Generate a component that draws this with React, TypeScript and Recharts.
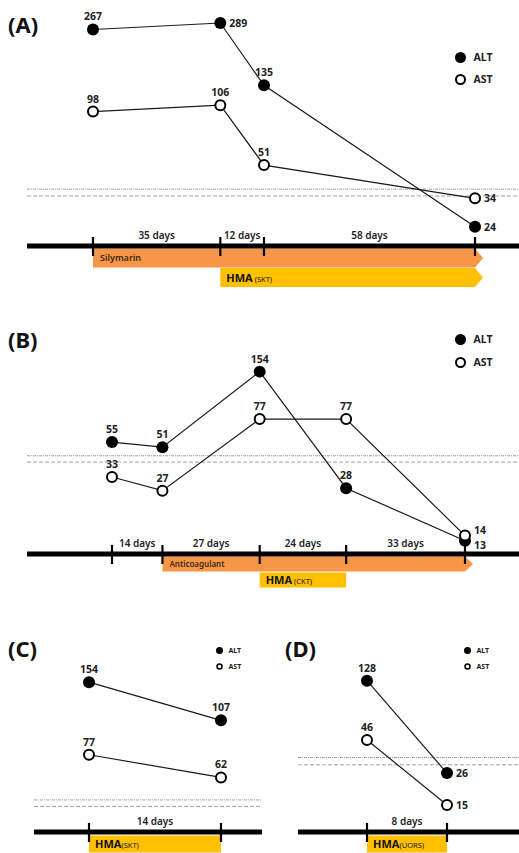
import React from 'react';
import { LineChart, Line, XAxis, YAxis, ReferenceLine, LabelList, BarChart, Bar } from 'recharts';

// (A) days from first visit, ALT / AST (IU/L)
const daysA = [0, 35, 47, 105];
const altA = [267, 289, 135, 24];
const astA = [98, 106, 51, 34];
const refA = [38, 35];
const drugsA = [
  { name: 'Silymarin', note: '', from: 0, to: 105, ongoing: true },
  { name: 'HMA', note: ' (SKT)', from: 35, to: 105, ongoing: true },
];

// (B)
const daysB = [0, 14, 41, 65, 98];
const altB = [55, 51, 154, 28, 13];
const astB = [33, 27, 77, 77, 14];
const refB = [45, 41];
const drugsB = [
  { name: 'Anticoagulant', note: '', from: 14, to: 98, ongoing: true },
  { name: 'HMA', note: ' (CKT)', from: 41, to: 65, ongoing: false },
];

// (C)
const daysC = [0, 14];
const altC = [154, 107];
const astC = [77, 62];
const refC = [50, 47];
const drugsC = [{ name: 'HMA', note: '(SKT)', from: 0, to: 14, ongoing: false }];

// (D)
const daysD = [0, 8];
const altD = [128, 26];
const astD = [46, 15];
const refD = [34, 30];
const drugsD = [{ name: 'HMA', note: '(UORS)', from: 0, to: 8, ongoing: false }];

const ORANGE = '#F79646';
const YELLOW = '#FFC000';
const drugColor: Record<string, string> = { Silymarin: ORANGE, Anticoagulant: ORANGE, HMA: YELLOW };
const FONT = "'Noto Sans', sans-serif";

const panels = [
  {
    id: 'A', days: daysA, alt: altA, ast: astA, ref: refA, drugs: drugsA,
    left: 27, top: 0, width: 492, lineY: 246, pad: { left: 66, right: 44 }, domain: [19, 360],
    barTop: 248, barH: 39, altRight: [1, 3], astRight: [3], altDy: 0, astDy: 0,
    legend: { x: 460, y: 57, gap: 22, big: true }, title: { x: 8, y: 24 },
  },
  {
    id: 'B', days: daysB, alt: altB, ast: astB, ref: refB, drugs: drugsB,
    left: 27, top: 300, width: 492, lineY: 554, pad: { left: 85, right: 54 }, domain: [10.7, 408],
    barTop: 556, barH: 32, altRight: [4], astRight: [4], altDy: 4, astDy: -6,
    legend: { x: 460, y: 339, gap: 23, big: true }, title: { x: 8, y: 339 },
  },
  {
    id: 'C', days: daysC, alt: altC, ast: astC, ref: refC, drugs: drugsC,
    left: 34, top: 620, width: 228, lineY: 832, pad: { left: 55, right: 41 }, domain: [36.8, 266],
    barTop: 835, barH: 18, altRight: [], astRight: [], altDy: 0, astDy: 0,
    legend: { x: 219, y: 650, gap: 16, big: false }, title: { x: 8, y: 648 },
  },
  {
    id: 'D', days: daysD, alt: altD, ast: astD, ref: refD, drugs: drugsD,
    left: 298, top: 620, width: 221, lineY: 832, pad: { left: 69, right: 72 }, domain: [9.4, 335],
    barTop: 835, barH: 18, altRight: [1], astRight: [1], altDy: 0, astDy: 0,
    legend: { x: 467, y: 650, gap: 16, big: false }, title: { x: 285, y: 648 },
  },
];

const valueLabel = (rightIdx: number[], dy: number) => (props: any) => {
  const x = props.x ?? props.viewBox?.x;
  const y = props.y ?? props.viewBox?.y;
  const side = rightIdx.includes(props.index);
  return (
    <text
      x={side ? x + 9 : x}
      y={side ? y + 4 + dy : y - 9}
      textAnchor={side ? 'start' : 'middle'}
      fontSize={10.5}
      fontWeight={700}
      fontFamily={FONT}
      fill="#222"
    >
      {props.value}
    </text>
  );
};

const filledDot = (p: any) => <circle key={`f${p.index}`} cx={p.cx} cy={p.cy} r={6} fill="#000" />;
const hollowDot = (p: any) => (
  <circle key={`h${p.index}`} cx={p.cx} cy={p.cy} r={5} fill="#fff" stroke="#000" strokeWidth={2} />
);

const DrugBar = (props: any) => {
  const { x, y, width, height, payload } = props;
  const top = y + 0.5;
  const h = height - 1;
  const tip = payload.ongoing ? 8 : 0;
  const pts = `${x},${top} ${x + width},${top} ${x + width + tip},${top + h / 2} ${x + width},${top + h} ${x},${top + h}`;
  const isHma = payload.name === 'HMA';
  return (
    <g>
      <polygon points={pts} fill={drugColor[payload.name]} />
      <text x={x + (isHma ? 6 : 7)} y={top + h / 2 + (isHma ? 4 : 3)} fontFamily={FONT} fill={isHma ? '#111' : '#3a2818'}>
        <tspan fontSize={isHma ? 11 : payload.name === 'Silymarin' ? 9 : 8} fontWeight={isHma ? 700 : 600}>
          {payload.name}
        </tspan>
        {payload.note ? <tspan fontSize={7.5} fontWeight={400}>{payload.note}</tspan> : null}
      </text>
    </g>
  );
};

const Panel = ({ cfg }: { cfg: (typeof panels)[number] }) => {
  const data = cfg.days.map((d, i) => ({ day: d, alt: cfg.alt[i], ast: cfg.ast[i] }));
  const last = cfg.days[cfg.days.length - 1];
  const mids = cfg.days.slice(1).map((d, i) => (d + cfg.days[i]) / 2);
  const gapText: Record<number, string> = {};
  cfg.days.slice(1).forEach((d, i) => {
    gapText[mids[i]] = `${d - cfg.days[i]} days`;
  });
  const ticks = [...cfg.days, ...mids].sort((a, b) => a - b);
  const bars = cfg.drugs.map((d) => ({ ...d, span: [d.from, d.to] }));

  const timelineTick = (props: any) => {
    const v = props.payload.value;
    if (cfg.days.includes(v)) {
      return (
        <g>
          <line x1={props.x} x2={props.x} y1={props.y - 9} y2={props.y + 10} stroke="#000" strokeWidth={2.2} />
        </g>
      );
    }
    return (
      <text x={props.x} y={props.y - 7} textAnchor="middle" fontSize={10} fontWeight={600} fontFamily={FONT} fill="#222">
        {gapText[v]}
      </text>
    );
  };

  const chartH = cfg.lineY - cfg.top + 12;
  const lg = cfg.legend;
  const r = lg.big ? 5.5 : 3.5;

  return (
    <>
      <div style={{ position: 'absolute', left: cfg.left, top: cfg.barTop }}>
        <BarChart
          width={cfg.width}
          height={cfg.barH}
          data={bars}
          layout="vertical"
          margin={{ top: 0, right: 0, bottom: 0, left: 0 }}
          barCategoryGap={0}
        >
          <XAxis type="number" dataKey="to" domain={[0, last]} padding={cfg.pad} hide />
          <YAxis type="category" dataKey="name" hide />
          <Bar dataKey="span" isAnimationActive={false} shape={DrugBar} />
        </BarChart>
      </div>

      <div style={{ position: 'absolute', left: cfg.left, top: cfg.top }}>
        <LineChart width={cfg.width} height={chartH} data={data} margin={{ top: 5, right: 0, bottom: 0, left: 0 }}>
          <XAxis
            type="number"
            dataKey="day"
            domain={[0, last]}
            padding={cfg.pad}
            ticks={ticks}
            interval={0}
            height={12}
            tickSize={0}
            tickMargin={0}
            tickLine={false}
            axisLine={{ stroke: '#000', strokeWidth: 5 }}
            tick={timelineTick}
          />
          <YAxis type="number" scale="log" domain={cfg.domain} allowDataOverflow hide />
          <ReferenceLine y={cfg.ref[0]} stroke="#a0a0a0" strokeDasharray="3 1 1 1" />
          <ReferenceLine y={cfg.ref[1]} stroke="#a0a0a0" strokeDasharray="4 2" />
          <Line
            dataKey="alt"
            stroke="#1a1a1a"
            strokeWidth={1.2}
            dot={filledDot}
            activeDot={false}
            isAnimationActive={false}
          >
            <LabelList dataKey="alt" content={valueLabel(cfg.altRight, cfg.altDy)} />
          </Line>
          <Line
            dataKey="ast"
            stroke="#1a1a1a"
            strokeWidth={1.2}
            dot={hollowDot}
            activeDot={false}
            isAnimationActive={false}
          >
            <LabelList dataKey="ast" content={valueLabel(cfg.astRight, cfg.astDy)} />
          </Line>
        </LineChart>
      </div>

      <div
        style={{
          position: 'absolute',
          left: cfg.title.x,
          top: cfg.title.y - 13,
          fontSize: 22,
          fontWeight: 700,
          lineHeight: '26px',
          fontFamily: FONT,
          color: '#111',
        }}
      >
        ({cfg.id})
      </div>

      {['ALT', 'AST'].map((name, i) => (
        <div
          key={name}
          style={{
            position: 'absolute',
            left: lg.x - r - 1,
            top: lg.y + i * lg.gap - 8,
            height: 16,
            display: 'flex',
            alignItems: 'center',
            fontFamily: FONT,
            fontSize: lg.big ? 10.5 : 7,
            fontWeight: 700,
            color: '#222',
          }}
        >
          <svg width={2 * r + 2} height={2 * r + 2} style={{ display: 'block' }}>
            {i === 0 ? (
              <circle cx={r + 1} cy={r + 1} r={r} fill="#000" />
            ) : (
              <circle cx={r + 1} cy={r + 1} r={r - 1} fill="#fff" stroke="#000" strokeWidth={lg.big ? 2 : 1.5} />
            )}
          </svg>
          <span style={{ marginLeft: lg.big ? 7 : 5 }}>{name}</span>
        </div>
      ))}
    </>
  );
};

export default function App() {
  return (
    <div style={{ position: 'relative', width: 519, height: 853, background: '#fff', overflow: 'hidden', fontFamily: FONT }}>
      <style>{'body{margin:0}'}</style>
      {panels.map((p) => (
        <Panel key={p.id} cfg={p} />
      ))}
    </div>
  );
}
